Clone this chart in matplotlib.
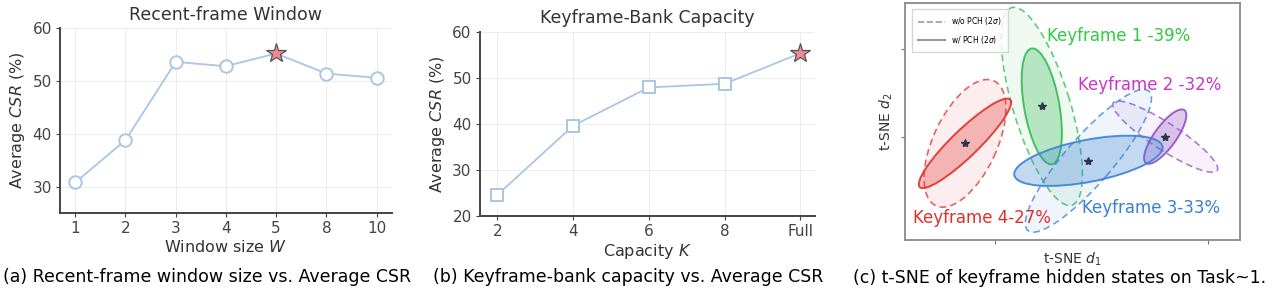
import matplotlib
matplotlib.use("Agg")
import matplotlib.pyplot as plt
from matplotlib.patches import Ellipse
from matplotlib.lines import Line2D

plt.rcParams['font.family'] = ['DejaVu Sans']

# (a) recent-frame window
win_labels = ['1', '2', '3', '4', '5', '8', '10']
win_csr = [30.8, 38.8, 53.6, 52.8, 55.2, 51.4, 50.6]
win_best = 4

# (b) keyframe-bank capacity
cap_labels = ['2', '4', '6', '8', 'Full']
cap_csr = [24.6, 39.6, 47.9, 48.7, 55.3]
cap_best = 4

# (c) t-SNE clusters
kf_names = ['Keyframe 1 -39%', 'Keyframe 2 -32%', 'Keyframe 3-33%', 'Keyframe 4-27%']
kf_colors = ['#33bb55', '#9450c4', '#3a82d5', '#e0302c']
kf_text_colors = ['#2ecc40', '#cc33cc', '#3a7fd5', '#e0302c']
kf_text_xy = [(63.7, 60.7), (73.1, 46.3), (73.3, 9.5), (23.1, 6.5)]
kf_centers = [(40.8, 39.8), (77.6, 30.8), (54.7, 23.6), (17.9, 28.8)]
# w/ PCH (solid): major, minor, angle
kf_solid = [(35, 10.5, 100), (19.5, 6.5, 54), (45, 12.5, 11), (37.5, 8, 44)]
# w/o PCH (dashed)
kf_dashed = [(61.5, 17, 107), (37, 8, -33), (55, 14, 49), (41, 19, 65)]

line_c = '#a9c6e6'
spine_c = '#444444'

fig = plt.figure(figsize=(12.8, 2.96), dpi=100)


def line_panel(ax, labels, vals, best, marker, ylim, yticks, title, xlabel):
    x = list(range(len(labels)))
    ax.plot(x, vals, color=line_c, lw=1.3, zorder=2)
    xs = [i for i in x if i != best]
    ys = [vals[i] for i in xs]
    ax.plot(xs, ys, ls='none', marker=marker, ms=9, mfc='white',
            mec=line_c, mew=1.4, zorder=3)
    ax.plot([best], [vals[best]], ls='none', marker='*', ms=15,
            mfc='#f08a92', mec='#555555', mew=0.9, zorder=4)
    ax.set_xticks(x)
    ax.set_xticklabels(labels)
    ax.set_yticks(yticks)
    ax.set_ylim(*ylim)
    ax.grid(True, color='#ececec', lw=0.7)
    ax.set_axisbelow(True)
    for s in ['top', 'right']:
        ax.spines[s].set_visible(False)
    for s in ['left', 'bottom']:
        ax.spines[s].set_color(spine_c)
        ax.spines[s].set_linewidth(1.4)
    ax.tick_params(labelsize=11, colors=spine_c, length=3, pad=3)
    ax.set_title(title, fontsize=12.5, color='#333333', pad=6)
    ax.set_xlabel(xlabel, fontsize=11.5, color='#333333', labelpad=2)
    ax.set_ylabel('Average $CSR$ (%)', fontsize=11.5, color='#333333', labelpad=4)


ax1 = fig.add_axes([0.047, 0.280, 0.259, 0.625])
line_panel(ax1, win_labels, win_csr, win_best, 'o', (25, 60), [30, 40, 50, 60],
           'Recent-frame Window', 'Window size $W$')
ax1.set_xlim(-0.3, 6.3)

ax2 = fig.add_axes([0.375, 0.270, 0.262, 0.623])
line_panel(ax2, cap_labels, cap_csr, cap_best, 's', (20, 60), [20, 30, 40, 50, 60],
           'Keyframe-Bank Capacity', 'Capacity $K$')
ax2.set_xlim(-0.23, 4.2)

# (c) t-SNE
ax3 = fig.add_axes([0.707, 0.189, 0.262, 0.801])
ax3.set_xlim(0, 100)
ax3.set_ylim(0, 70.6)
for i in range(len(kf_names)):
    c = kf_colors[i]
    cx, cy = kf_centers[i]
    w, h, a = kf_dashed[i]
    ax3.add_patch(Ellipse((cx, cy), w, h, angle=a, facecolor=c, alpha=0.08, lw=0))
    ax3.add_patch(Ellipse((cx, cy), w, h, angle=a, facecolor='none', edgecolor=c,
                          lw=1.2, ls=(0, (4, 2.5)), alpha=0.75))
    w, h, a = kf_solid[i]
    ax3.add_patch(Ellipse((cx, cy), w, h, angle=a, facecolor=c, alpha=0.3, lw=0))
    ax3.add_patch(Ellipse((cx, cy), w, h, angle=a, facecolor='none', edgecolor=c,
                          lw=1.4, alpha=0.9))
    ax3.plot([cx], [cy], marker='*', ms=6, color='#2a3550', ls='none', zorder=5)
    tx, ty = kf_text_xy[i]
    ax3.text(tx, ty, kf_names[i], color=kf_text_colors[i], fontsize=12,
             ha='center', va='center')

ax3.set_xticks([26.9, 90.5])
ax3.set_yticks([30.8, 56.9])
ax3.set_xticklabels([])
ax3.set_yticklabels([])
ax3.tick_params(length=3, color='#777777')
for s in ax3.spines.values():
    s.set_color('#8a8a8a')
    s.set_linewidth(1.3)
ax3.set_xlabel('t-SNE $d_1$', fontsize=10, color='#333333', labelpad=1)
ax3.set_ylabel('t-SNE $d_2$', fontsize=10, color='#333333', labelpad=1)
handles = [Line2D([], [], color='#999999', ls='--', lw=1.2),
           Line2D([], [], color='#999999', ls='-', lw=1.5)]
ax3.legend(handles, ['w/o PCH (2$\\sigma$)', 'w/ PCH (2$\\sigma$)'], loc='upper left',
           fontsize=5.5, frameon=True, edgecolor='#cccccc', fancybox=False,
           handlelength=3.5, borderpad=0.8, labelspacing=0.9,
           bbox_to_anchor=(0.01, 0.99))

fig.text(0.162, 0.064, '(a) Recent-frame window size vs. Average CSR',
         ha='center', va='center', fontsize=12.5)
fig.text(0.491, 0.064, '(b) Keyframe-bank capacity vs. Average CSR',
         ha='center', va='center', fontsize=12.5)
fig.text(0.828, 0.060, '(c) t-SNE of keyframe hidden states on Task~1.',
         ha='center', va='center', fontsize=12.5)

fig.savefig('out.png', dpi=100)
